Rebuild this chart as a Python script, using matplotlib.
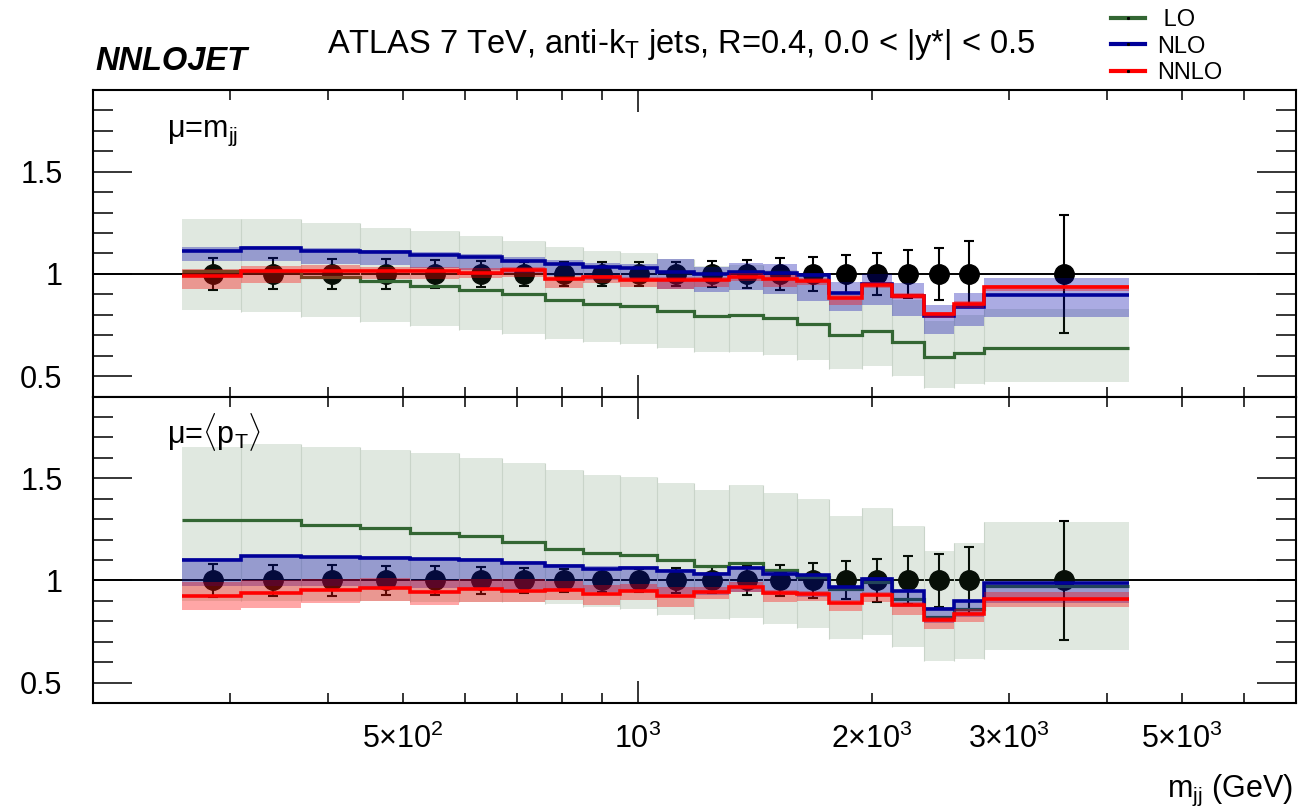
import numpy as np
import matplotlib
matplotlib.use("Agg")
import matplotlib.pyplot as plt
from matplotlib.ticker import FixedLocator, MultipleLocator, FuncFormatter
from matplotlib.lines import Line2D

plt.rcParams['font.family'] = ['Liberation Sans', 'DejaVu Sans']
plt.rcParams['mathtext.fontset'] = 'custom'
plt.rcParams['mathtext.rm'] = 'Liberation Sans'
plt.rcParams['mathtext.it'] = 'Liberation Sans:italic'
plt.rcParams['mathtext.bf'] = 'Liberation Sans:bold'

# bins in m_jj (GeV)
binEdges = [260, 310, 370, 440, 510, 590, 670, 760, 850, 950, 1060, 1180, 1310,
            1450, 1600, 1760, 1940, 2120, 2330, 2550, 2780, 4270]

# data / data (always 1) and its relative uncertainty
dataRatio = [1.0] * 21
dataErr = [0.080, 0.076, 0.074, 0.072, 0.070, 0.065, 0.060, 0.058, 0.058, 0.057, 0.060,
           0.064, 0.070, 0.077, 0.085, 0.093, 0.104, 0.117, 0.128, 0.162, 0.290]

# mu = m_jj
loMjj = [1.015, 1.015, 0.984, 0.963, 0.942, 0.922, 0.900, 0.873, 0.854, 0.841, 0.820,
         0.795, 0.800, 0.782, 0.755, 0.700, 0.722, 0.666, 0.591, 0.615, 0.638]
loMjjUp = [1.271, 1.271, 1.247, 1.227, 1.208, 1.185, 1.159, 1.130, 1.112, 1.100, 1.071,
           1.040, 1.045, 1.020, 0.985, 0.910, 0.940, 0.870, 0.770, 0.800, 0.830]
loMjjDn = [0.821, 0.812, 0.787, 0.763, 0.744, 0.724, 0.705, 0.679, 0.666, 0.656, 0.636,
           0.617, 0.617, 0.603, 0.578, 0.534, 0.549, 0.500, 0.442, 0.463, 0.471]
nloMjj = [1.114, 1.128, 1.114, 1.105, 1.093, 1.081, 1.065, 1.049, 1.032, 1.031, 1.008,
          1.000, 1.008, 1.003, 0.995, 0.906, 0.951, 0.893, 0.792, 0.838, 0.899]
nloMjjUp = [1.133, 1.136, 1.125, 1.117, 1.109, 1.097, 1.084, 1.068, 1.055, 1.047, 1.071,
            1.036, 1.052, 1.049, 1.006, 0.958, 1.000, 0.955, 0.847, 0.906, 0.979]
nloMjjDn = [1.063, 1.063, 1.047, 1.044, 1.028, 1.019, 1.006, 0.990, 0.971, 0.963, 0.925,
            0.909, 0.919, 0.903, 0.865, 0.820, 0.849, 0.795, 0.708, 0.744, 0.787]
nnloMjj = [0.990, 1.015, 1.015, 1.015, 1.016, 1.006, 1.019, 0.977, 0.984, 0.971, 0.971,
           0.971, 0.987, 0.974, 0.966, 0.881, 0.945, 0.894, 0.804, 0.854, 0.935]
nnloMjjUp = [1.024, 1.039, 1.044, 1.036, 1.036, 1.028, 1.036, 0.990, 0.995, 0.984, 0.987,
             0.984, 1.006, 0.995, 0.982, 0.898, 0.958, 0.906, 0.812, 0.865, 0.946]
nnloMjjDn = [0.925, 0.955, 0.974, 0.974, 0.974, 0.979, 0.987, 0.930, 0.955, 0.935, 0.925,
             0.935, 0.963, 0.935, 0.946, 0.849, 0.930, 0.877, 0.784, 0.833, 0.914]

# mu = <pT>
loPt = [1.298, 1.298, 1.272, 1.256, 1.233, 1.215, 1.187, 1.155, 1.135, 1.125, 1.098,
        1.070, 1.085, 1.049, 1.015, 0.960, 0.990, 0.910, 0.820, 0.860, 0.975]
loPtUp = [1.652, 1.668, 1.652, 1.639, 1.625, 1.598, 1.575, 1.541, 1.516, 1.505, 1.477,
          1.443, 1.468, 1.428, 1.399, 1.314, 1.355, 1.266, 1.142, 1.184, 1.285]
loPtDn = [0.900, 0.900, 0.900, 0.900, 0.895, 0.895, 0.895, 0.886, 0.870, 0.858, 0.832,
          0.809, 0.818, 0.788, 0.769, 0.715, 0.731, 0.674, 0.604, 0.617, 0.658]
nloPt = [1.098, 1.119, 1.114, 1.109, 1.106, 1.098, 1.086, 1.070, 1.057, 1.060, 1.044,
         1.029, 1.060, 1.033, 1.024, 0.970, 1.008, 0.948, 0.862, 0.898, 0.987]
nloPtUp = [1.110, 1.125, 1.120, 1.117, 1.110, 1.110, 1.095, 1.080, 1.070, 1.070, 1.055,
           1.040, 1.070, 1.045, 1.030, 0.975, 1.015, 0.955, 0.868, 0.905, 0.990]
nloPtDn = [0.975, 0.975, 0.975, 0.970, 0.965, 0.960, 0.960, 0.955, 0.945, 0.950, 0.935,
           0.930, 0.945, 0.930, 0.920, 0.900, 0.930, 0.870, 0.790, 0.820, 0.890]
nnloPt = [0.923, 0.940, 0.951, 0.963, 0.943, 0.956, 0.946, 0.951, 0.935, 0.946, 0.923,
          0.943, 0.967, 0.940, 0.935, 0.890, 0.927, 0.878, 0.804, 0.837, 0.910]
nnloPtUp = [0.992, 1.000, 1.008, 1.011, 1.000, 1.008, 1.005, 0.995, 0.976, 0.984, 0.967,
            0.967, 0.992, 0.951, 0.946, 0.902, 0.943, 0.894, 0.821, 0.862, 0.943]
nnloPtDn = [0.853, 0.865, 0.890, 0.897, 0.878, 0.894, 0.894, 0.902, 0.878, 0.902, 0.870,
            0.910, 0.943, 0.894, 0.897, 0.848, 0.894, 0.832, 0.760, 0.796, 0.870]

# axis labels
yTicks = [0.5, 1.0, 1.5]
xMinorTicks = [300, 400, 500, 600, 700, 800, 900, 2000, 3000, 4000, 5000, 6000]
xLabels = {500: r'$5{\times}10^{2}$', 1000: r'$10^{3}$', 2000: r'$2{\times}10^{3}$',
           3000: r'$3{\times}10^{3}$', 5000: r'$5{\times}10^{3}$'}

LO_COLOR = '#336633'
NLO_COLOR = '#000099'
NLO_BAND = '#0000aa'
NNLO_COLOR = '#ff0000'

W, H = 1303, 810


def xLabel(v, pos):
    return xLabels.get(int(round(v)), '')


def tracerPanneau(ax, lo, loUp, loDn, nlo, nloUp, nloDn, nnlo, nnloUp, nnloDn):
    edges = np.array(binEdges, dtype=float)
    centres = 0.5 * (edges[:-1] + edges[1:])
    loUp, loDn = np.array(loUp), np.array(loDn)

    ax.axhline(1.0, color='k', lw=1.4, zorder=1)
    ax.errorbar(centres, dataRatio, yerr=dataErr, fmt='o', color='k', ms=14,
                elinewidth=1.5, capsize=3.4, capthick=1.5, zorder=2)

    ax.stairs(loUp, edges, baseline=loDn, fill=True, color=LO_COLOR, alpha=0.15, lw=0, zorder=3)
    # fines separations entre les bins de la bande LO
    ax.vlines(edges[1:-1], np.minimum(loDn[:-1], loDn[1:]), np.maximum(loUp[:-1], loUp[1:]),
              color='#c9d4c9', lw=0.8, zorder=3)
    ax.stairs(lo, edges, baseline=None, color=LO_COLOR, lw=2.3, zorder=4)

    ax.stairs(nloUp, edges, baseline=nloDn, fill=True, color=NLO_BAND, alpha=0.33, lw=0, zorder=5)
    ax.stairs(nlo, edges, baseline=None, color=NLO_COLOR, lw=2.6, zorder=6)

    ax.stairs(nnloUp, edges, baseline=nnloDn, fill=True, color=NNLO_COLOR, alpha=0.35, lw=0, zorder=7)
    ax.stairs(nnlo, edges, baseline=None, color=NNLO_COLOR, lw=2.6, zorder=8)

    ax.set_xscale('log')
    ax.set_xlim(200, 7000)
    ax.set_ylim(0.4, 1.9)

    ax.yaxis.set_major_locator(FixedLocator(yTicks))
    ax.yaxis.set_minor_locator(MultipleLocator(0.1))
    ax.yaxis.set_major_formatter(FuncFormatter(lambda v, p: '%g' % v))
    ax.xaxis.set_major_locator(FixedLocator([1000]))
    ax.xaxis.set_minor_locator(FixedLocator(xMinorTicks))

    ax.tick_params(axis='y', which='major', direction='in', length=28, width=1.1,
                   left=True, right=True, labelsize=22, pad=22)
    ax.tick_params(axis='y', which='minor', direction='in', length=14.4, width=1.1,
                   left=True, right=True)
    ax.tick_params(axis='x', which='major', direction='in', length=15.8, width=1.1,
                   top=True, bottom=True, labelsize=22, pad=15)
    ax.tick_params(axis='x', which='minor', direction='in', length=7.2, width=1.1,
                   top=True, bottom=True, labelsize=22, pad=15)
    for s in ax.spines.values():
        s.set_linewidth(1.5)


def main():
    fig = plt.figure(figsize=(W / 100, H / 100), dpi=100)
    left, right = 93 / W, 1296 / W
    top, mid, bottom = 1 - 90 / H, 1 - 396.5 / H, 1 - 703 / H

    axHaut = fig.add_axes([left, mid, right - left, top - mid])
    axBas = fig.add_axes([left, bottom, right - left, mid - bottom])

    tracerPanneau(axHaut, loMjj, loMjjUp, loMjjDn, nloMjj, nloMjjUp, nloMjjDn,
                  nnloMjj, nnloMjjUp, nnloMjjDn)
    tracerPanneau(axBas, loPt, loPtUp, loPtDn, nloPt, nloPtUp, nloPtDn,
                  nnloPt, nnloPtUp, nnloPtDn)

    axHaut.tick_params(axis='x', which='both', labelbottom=False)
    axBas.xaxis.set_major_formatter(FuncFormatter(xLabel))
    axBas.xaxis.set_minor_formatter(FuncFormatter(xLabel))

    fig.text(95 / W, 1 - 70 / H, 'NNLOJET', fontsize=23.5, fontweight='bold',
             fontstyle='italic', va='baseline')
    fig.text(327 / W, 1 - 53 / H,
             'ATLAS 7 TeV, anti-k$_{\\rm T}$ jets, R=0.4, 0.0 < |y*| < 0.5',
             fontsize=23.5, va='baseline')
    fig.text(167 / W, 1 - 137 / H, 'μ=m$_{\\rm jj}$', fontsize=22, va='baseline')
    fig.text(167 / W, 1 - 443 / H, 'μ=$\\langle$p$_{\\rm T}$$\\rangle$', fontsize=22,
             va='baseline')
    fig.text(1293 / W, 1 - 797 / H, 'm$_{\\rm jj}$ (GeV)', fontsize=22, ha='right',
             va='baseline')

    handles = [Line2D([], [], color=c, lw=3, marker='s', ms=1.2, mfc='k', mec='k')
               for c in (LO_COLOR, NLO_COLOR, NNLO_COLOR)]
    fig.legend(handles, [' LO', 'NLO', 'NNLO'], loc='upper left',
               bbox_to_anchor=(1111 / W, 1 - 9 / H), frameon=False, fontsize=17,
               handlelength=1.45, handletextpad=0.5, labelspacing=0.2,
               borderpad=0, borderaxespad=0)

    fig.savefig('out.png', dpi=100)


if __name__ == "__main__":
    main()
